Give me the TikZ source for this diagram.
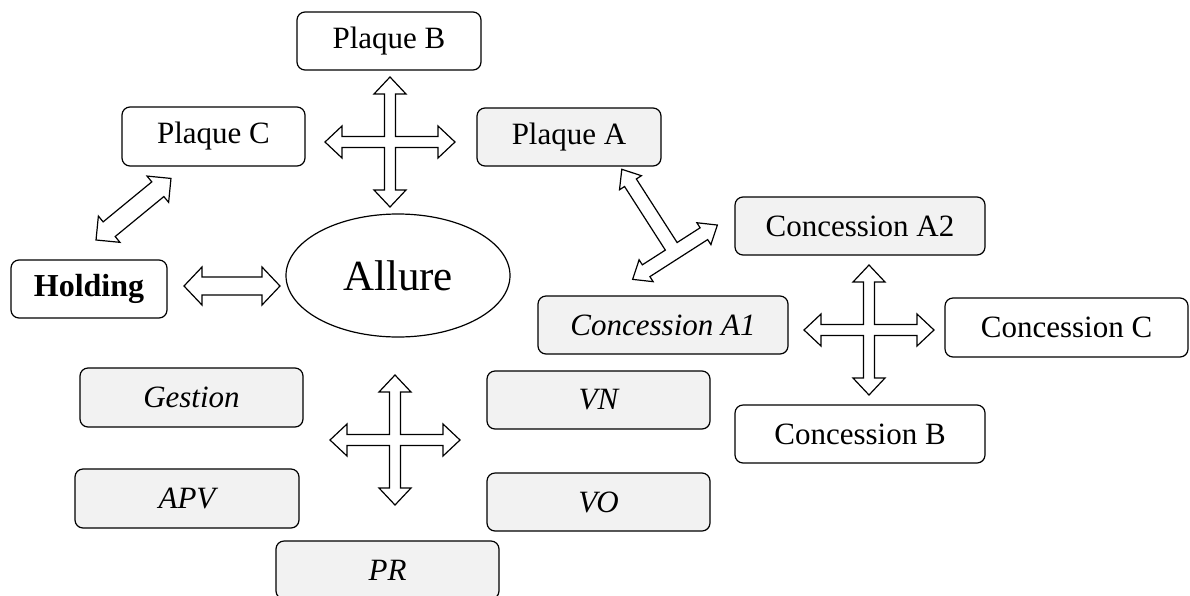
\documentclass[tikz,border=0pt]{standalone}
\usepackage{fontspec}
\setmainfont{Liberation Serif}
\usetikzlibrary{shapes.geometric}
\definecolor{boxgray}{HTML}{F2F2F2}
\tikzset{
  box/.style={draw=black, line width=1.2pt, rounded corners=8pt, inner sep=0pt,
    fill=white, font=\fontsize{31}{36}\selectfont},
  gbox/.style={box, fill=boxgray},
  blockarrow/.style={draw=black, line width=1.2pt, fill=white, line join=miter}
}
\newcommand\DblArrow[7]{%
  \begin{scope}[shift={(#1,#2)}, rotate=#3]
    \draw[blockarrow] (#4,0) -- (#4-#7,#6) -- (#4-#7,#5) -- (-#4+#7,#5) -- (-#4+#7,#6)
      -- (-#4,0) -- (-#4+#7,-#6) -- (-#4+#7,-#5) -- (#4-#7,-#5) -- (#4-#7,-#6) -- cycle;
  \end{scope}}
\newcommand\QuadArrow[6]{%
  \begin{scope}[shift={(#1,#2)}]
    \draw[blockarrow] (#3,0) -- (#3-#6,#5) -- (#3-#6,#4) -- (#4,#4) -- (#4,#3-#6) -- (#5,#3-#6)
      -- (0,#3) -- (-#5,#3-#6) -- (-#4,#3-#6) -- (-#4,#4) -- (-#3+#6,#4) -- (-#3+#6,#5)
      -- (-#3,0) -- (-#3+#6,-#5) -- (-#3+#6,-#4) -- (-#4,-#4) -- (-#4,-#3+#6) -- (-#5,-#3+#6)
      -- (0,-#3) -- (#5,-#3+#6) -- (#4,-#3+#6) -- (#4,-#4) -- (#3-#6,-#4) -- (#3-#6,-#5) -- cycle;
  \end{scope}}
\begin{document}
\begin{tikzpicture}[x=1pt, y=-1pt]
  \useasboundingbox (0,0) rectangle (1190,595);
  \clip (0,0) rectangle (1190,595);
  \fill[white] (0,0) rectangle (1190,595);

  % boxes
  \node[box, minimum width=184pt, minimum height=58pt] (plaqueB) at (389,41) {Plaque B};
  \node[box, minimum width=183pt, minimum height=59pt] (plaqueC) at (213.5,136.5) {Plaque C};
  \node[gbox, minimum width=184pt, minimum height=58pt] (plaqueA) at (569,137) {Plaque A};
  \node[box, minimum width=156pt, minimum height=58pt] (holding) at (89,289) {};
  \begin{scope}
    \clip (0,250) rectangle (180,305);
    \node[inner sep=0pt, font=\fontsize{32}{36}\selectfont\bfseries] (holdingtext) at (holding.center) {Holding};
  \end{scope}
  \node[draw=black, line width=1.2pt, ellipse, minimum width=224pt, minimum height=123pt, inner sep=0pt,
        font=\fontsize{43}{48}\selectfont] (allure) at (398,275.5) {Allure};
  \node[gbox, minimum width=250pt, minimum height=58pt] (concA2) at (860,226) {Concession A2};
  \node[gbox, minimum width=250pt, minimum height=58pt, font=\fontsize{31}{36}\selectfont\itshape] (concA1) at (663,325) {Concession A1};
  \node[box, minimum width=243pt, minimum height=59pt] (concC) at (1066.5,327.5) {Concession C};
  \node[box, minimum width=250pt, minimum height=58pt] (concB) at (860,434) {Concession B};
  \node[gbox, minimum width=223pt, minimum height=59pt, font=\fontsize{31}{36}\selectfont\itshape] (gestion) at (191.5,397.5) {Gestion};
  \node[gbox, minimum width=224pt, minimum height=59pt, font=\fontsize{31}{36}\selectfont\itshape] (apv) at (187,498.5) {APV};
  \node[gbox, minimum width=223pt, minimum height=58pt, font=\fontsize{31}{36}\selectfont\itshape] (vn) at (598.5,400) {VN};
  \node[gbox, minimum width=223pt, minimum height=58pt, font=\fontsize{31}{36}\selectfont\itshape] (vo) at (598.5,502) {VO};
  \node[gbox, minimum width=223pt, minimum height=58pt, font=\fontsize{31}{36}\selectfont\itshape] (pr) at (387.5,570) {PR};

  % block arrows
  \QuadArrow{390}{142}{65}{5.5}{16}{17}
  \QuadArrow{869}{330}{65}{5.5}{16}{17}
  \QuadArrow{395}{440}{65}{5.5}{16}{17}
  \DblArrow{232}{286}{0}{48}{9}{19}{18}
  \DblArrow{133.5}{209.2}{39.4}{48.5}{9.5}{17}{17}

  % three-headed arrow between Plaque A, Concession A2 and Concession A1
  \begin{scope}[shift={(675,252.2)}, x={(0.842pt,0.540pt)}, y={(-0.540pt,0.842pt)}]
    \draw[blockarrow] (-50.3,0) -- (-34.3,13) -- (-34.3,7) -- (-7,7) -- (-7,82.5) -- (-13,82.5)
      -- (0,98.5) -- (13,82.5) -- (7,82.5) -- (7,7) -- (34.3,7) -- (34.3,13) -- (50.3,0)
      -- (34.3,-13) -- (34.3,-7) -- (-34.3,-7) -- (-34.3,-13) -- cycle;
  \end{scope}
\end{tikzpicture}
\end{document}
